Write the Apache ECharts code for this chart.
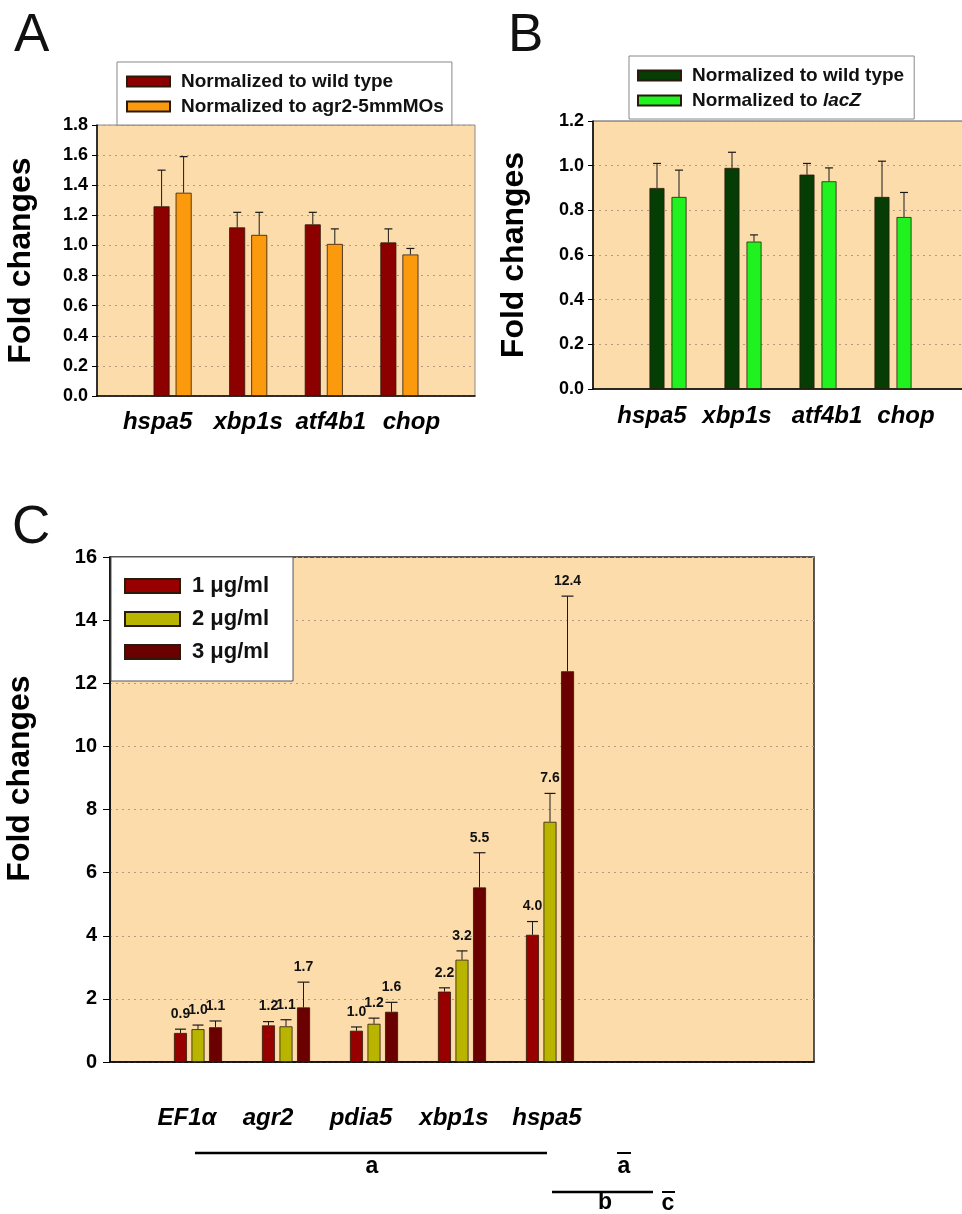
<!DOCTYPE html>
<html>
<head>
<meta charset="utf-8">
<title>Fold changes</title>
<script src="https://cdn.jsdelivr.net/npm/echarts@6/dist/echarts.min.js"></script>
<style>
  html, body { margin: 0; padding: 0; background: #fff; }
  #chart { width: 962px; height: 1214px; }
</style>
</head>
<body>
<div id="chart"></div>
<script>
// ---- panel A ----
const genesA = ['hspa5', 'xbp1s', 'atf4b1', 'chop'];
const wildTypeA = [1.26, 1.12, 1.14, 1.02];
const wildTypeErrA = [0.24, 0.10, 0.08, 0.09];
const agr2MoA = [1.35, 1.07, 1.01, 0.94];
const agr2MoErrA = [0.24, 0.15, 0.10, 0.04];

// ---- panel B ----
const genesB = ['hspa5', 'xbp1s', 'atf4b1', 'chop'];
const wildTypeB = [0.90, 0.99, 0.96, 0.86];
const wildTypeErrB = [0.11, 0.07, 0.05, 0.16];
const lacZB = [0.86, 0.66, 0.93, 0.77];
const lacZErrB = [0.12, 0.03, 0.06, 0.11];

// ---- panel C ----
const genesC = ['EF1α', 'agr2', 'pdia5', 'xbp1s', 'hspa5'];
const dose1 = [0.92, 1.16, 0.99, 2.23, 4.03];
const dose1Err = [0.12, 0.12, 0.12, 0.12, 0.42];
const dose2 = [1.04, 1.13, 1.21, 3.24, 7.61];
const dose2Err = [0.13, 0.21, 0.18, 0.28, 0.90];
const dose3 = [1.10, 1.73, 1.59, 5.53, 12.38];
const dose3Err = [0.20, 0.80, 0.30, 1.10, 2.38];

const FONT = '"Liberation Sans", Arial, Helvetica, sans-serif';
const PEACH = '#fddcab';

const chart = echarts.init(document.getElementById('chart'));

function padded(arr, before, after) {
  return Array(before).fill(null).concat(arr, Array(after).fill(null));
}

// category list with empty slots so groups sit on the ticks
function cats(genes, after) {
  const out = [''];
  genes.forEach(g => out.push(g));
  for (let i = 0; i < after; i++) out.push(' '.repeat(i + 1));
  return out;
}

function bar(name, axis, data, color, width, gap) {
  return {
    type: 'bar', name: name, xAxisIndex: axis, yAxisIndex: axis,
    data: padded(data, 1, axis === 2 ? 3 : 1),
    barWidth: width, barGap: gap,
    itemStyle: { color: color, borderColor: '#2b1a0c', borderWidth: 0.8 },
    emphasis: { disabled: true }
  };
}

function errorBars(axis, means, errs, offset, capW, withLabels) {
  return {
    type: 'custom', xAxisIndex: axis, yAxisIndex: axis, z: 5, silent: true,
    data: means.map((m, i) => [i + 1, m, m + errs[i]]),
    renderItem: function (params, api) {
      const base = api.coord([api.value(0), api.value(1)]);
      const top = api.coord([api.value(0), api.value(2)]);
      const x = base[0] + offset;
      const kids = [
        { type: 'line', shape: { x1: x, y1: base[1], x2: x, y2: top[1] }, style: { stroke: '#1a1a1a', lineWidth: 1 } },
        { type: 'line', shape: { x1: x - capW / 2, y1: top[1], x2: x + capW / 2, y2: top[1] }, style: { stroke: '#1a1a1a', lineWidth: 1.2 } }
      ];
      if (withLabels) {
        kids.push({
          type: 'text', x: x, y: top[1] - 15,
          style: { text: api.value(1).toFixed(1), font: 'bold 14px ' + FONT, fill: '#111', align: 'center', verticalAlign: 'middle' }
        });
      }
      return { type: 'group', children: kids };
    }
  };
}

function shiftedLabels(shifts, size) {
  const rich = {};
  shifts.forEach((s, i) => {
    rich['s' + i] = {
      fontSize: size, fontWeight: 'bold', fontStyle: 'italic', fontFamily: FONT, color: '#000',
      padding: s < 0 ? [0, -2 * s, 0, 0] : [0, 0, 0, 2 * s]
    };
  });
  return {
    interval: 0, margin: 0, rich: rich,
    formatter: function (v, i) { return v.trim() === '' ? '' : '{s' + (i - 1) + '|' + v + '}'; }
  };
}

function yAxis(grid, max, step, gap, labelSize, digits, tickLen, margin, namePad) {
  return {
    gridIndex: grid, type: 'value', min: 0, max: max, interval: step,
    name: 'Fold changes', nameLocation: 'middle', nameGap: gap, nameMoveOverlap: false,
    nameTextStyle: { fontSize: 32, fontWeight: 'bold', color: '#000', fontFamily: FONT, padding: namePad },
    axisLine: { show: true, lineStyle: { color: '#000', width: 1.5 } },
    axisTick: { show: true, length: tickLen, lineStyle: { color: '#000', width: 1 } },
    axisLabel: { fontSize: labelSize, fontWeight: 'bold', color: '#000', fontFamily: FONT, margin: margin,
      formatter: v => v.toFixed(digits) },
    splitLine: { show: true, lineStyle: { type: [2, 4], color: '#b49a80', width: 1 } }
  };
}

function xAxis(grid, data, labels, margin) {
  labels.margin = margin;
  return {
    gridIndex: grid, type: 'category', boundaryGap: false, data: data,
    axisLine: { show: true, lineStyle: { color: '#000', width: 1.5 } },
    axisTick: { show: false },
    splitLine: { show: false },
    axisLabel: labels
  };
}

const legendBase = {
  orient: 'vertical', icon: 'rect', selectedMode: false, backgroundColor: '#fff',
  borderWidth: 1
};

const option = {
  animation: false,
  textStyle: { fontFamily: FONT },
  title: [
    { text: 'A', left: 9, top: 5, textStyle: { fontSize: 53, fontWeight: 'normal', color: '#111', fontFamily: FONT } },
    { text: 'B', left: 503, top: 5, textStyle: { fontSize: 53, fontWeight: 'normal', color: '#111', fontFamily: FONT } },
    { text: 'C', left: 7, top: 497, textStyle: { fontSize: 53, fontWeight: 'normal', color: '#111', fontFamily: FONT } }
  ],
  grid: [
    { left: 97, top: 125, width: 378, height: 271, show: true, backgroundColor: PEACH, borderColor: '#8a8a8a', borderWidth: 1, outerBoundsMode: 'none' },
    { left: 593, top: 121, width: 375, height: 268, show: true, backgroundColor: PEACH, borderColor: '#555', borderWidth: 1, outerBoundsMode: 'none' },
    { left: 110, top: 557, width: 704, height: 505, show: true, backgroundColor: PEACH, borderColor: '#222', borderWidth: 1.5, outerBoundsMode: 'none' }
  ],
  legend: [
    Object.assign({}, legendBase, {
      left: 117, top: 62, data: ['Normalized to wild type', 'Normalized to agr2-5mmMOs'],
      itemWidth: 43, itemHeight: 10, itemGap: 6, padding: [10, 8, 9, 9], borderColor: '#888',
      textStyle: { fontSize: 19, fontWeight: 'bold', color: '#111', lineHeight: 18, padding: [0, 0, 0, 6] }
    }),
    Object.assign({}, legendBase, {
      left: 629, top: 56, data: ['wild type B', 'lacZ B'],
      itemWidth: 43, itemHeight: 10, itemGap: 6, padding: [10, 10, 9, 8], borderColor: '#888',
      formatter: n => n === 'lacZ B' ? 'Normalized to {i|lacZ}' : 'Normalized to wild type',
      textStyle: { fontSize: 19, fontWeight: 'bold', color: '#111', lineHeight: 18, padding: [0, 0, 0, 6],
        rich: { i: { fontSize: 19, fontWeight: 'bold', fontStyle: 'italic', color: '#111', fontFamily: FONT, lineHeight: 18 } } }
    }),
    Object.assign({}, legendBase, {
      left: 111, top: 557, data: ['1 μg/ml', '2 μg/ml', '3 μg/ml'],
      itemWidth: 55, itemHeight: 14, itemGap: 11, padding: [18, 24, 18, 13], borderColor: '#555',
      textStyle: { fontSize: 22, fontWeight: 'bold', color: '#111', lineHeight: 21, padding: [0, 0, 0, 7] }
    })
  ],
  xAxis: [
    xAxis(0, cats(genesA, 1), shiftedLabels([-15, 0, 7, 12], 24), 14),
    xAxis(1, cats(genesB, 1), shiftedLabels([-16, -6, 9, 13], 24), 15),
    xAxis(2, cats(genesC, 3), shiftedLabels([-11, -18, -13, -8, -3], 24), 44)
  ],
  yAxis: [
    yAxis(0, 1.8, 0.2, 60, 18, 1, 5, 9, [0, 0, 0, 0]),
    yAxis(1, 1.2, 0.2, 63, 18, 1, 5, 9, [0, 0, 0, 0]),
    yAxis(2, 16, 2, 74, 20, 0, 7, 13, [0, 0, 0, 62])
  ],
  series: [
    bar('Normalized to wild type', 0, wildTypeA, '#8c0000', 16, '38%'),
    bar('Normalized to agr2-5mmMOs', 0, agr2MoA, '#fc9a0e', 16, '38%'),
    errorBars(0, wildTypeA, wildTypeErrA, -11, 8, false),
    errorBars(0, agr2MoA, agr2MoErrA, 11, 8, false),

    bar('wild type B', 1, wildTypeB, '#053d05', 15, '47%'),
    bar('lacZ B', 1, lacZB, '#1ff21f', 15, '47%'),
    errorBars(1, wildTypeB, wildTypeErrB, -11, 8, false),
    errorBars(1, lacZB, lacZErrB, 11, 8, false),

    bar('1 μg/ml', 2, dose1, '#980000', 13, '35%'),
    bar('2 μg/ml', 2, dose2, '#b8b400', 13, '35%'),
    bar('3 μg/ml', 2, dose3, '#6a0000', 13, '35%'),
    errorBars(2, dose1, dose1Err, -17.5, 11, true),
    errorBars(2, dose2, dose2Err, 0, 11, true),
    errorBars(2, dose3, dose3Err, 17.5, 12, true)
  ],
  // significance groups under panel C
  graphic: [
    { type: 'line', shape: { x1: 195, y1: 1153, x2: 547, y2: 1153 }, style: { stroke: '#000', lineWidth: 2.5 } },
    { type: 'text', x: 372, y: 1167, style: { text: 'a', font: 'bold 23px ' + FONT, fill: '#000', align: 'center', verticalAlign: 'middle' } },
    { type: 'line', shape: { x1: 617, y1: 1153, x2: 631, y2: 1153 }, style: { stroke: '#000', lineWidth: 2 } },
    { type: 'text', x: 624, y: 1167, style: { text: 'a', font: 'bold 23px ' + FONT, fill: '#000', align: 'center', verticalAlign: 'middle' } },
    { type: 'line', shape: { x1: 552, y1: 1192, x2: 653, y2: 1192 }, style: { stroke: '#000', lineWidth: 2.5 } },
    { type: 'text', x: 605, y: 1203, style: { text: 'b', font: 'bold 23px ' + FONT, fill: '#000', align: 'center', verticalAlign: 'middle' } },
    { type: 'line', shape: { x1: 662, y1: 1192, x2: 675, y2: 1192 }, style: { stroke: '#000', lineWidth: 2 } },
    { type: 'text', x: 668, y: 1204, style: { text: 'c', font: 'bold 23px ' + FONT, fill: '#000', align: 'center', verticalAlign: 'middle' } }
  ]
};

chart.setOption(option);
</script>
</body>
</html>
